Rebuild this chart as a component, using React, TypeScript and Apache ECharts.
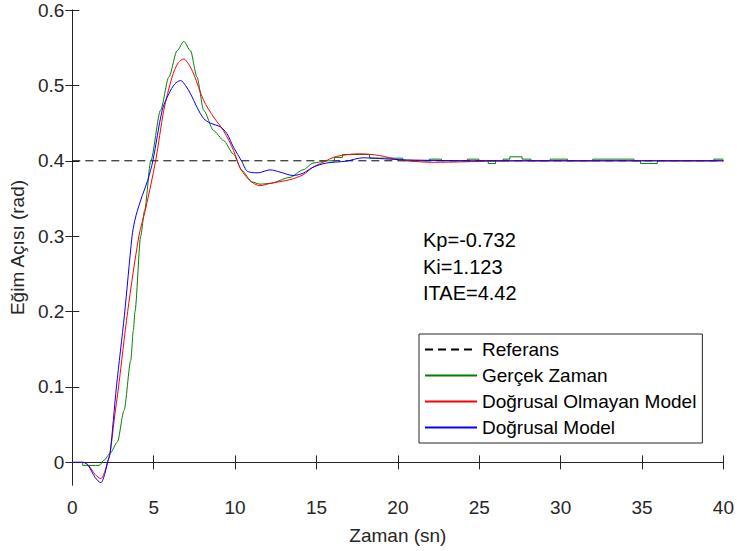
import React, { useEffect, useRef } from "react";
import * as echarts from "echarts";

const xTicks = [0, 5, 10, 15, 20, 25, 30, 35, 40];
const yTicks = [0, 0.1, 0.2, 0.3, 0.4, 0.5, 0.6];
const seriesNames = ["Referans", "Gerçek Zaman", "Doğrusal Olmayan Model", "Doğrusal Model"];
const annotations = ["Kp=-0.732", "Ki=1.123", "ITAE=4.42"];

const referans: number[][] = [[0, 0.4], [40, 0.4]];

// Gerçek Zaman: transient part (smooth) and quantized tail (steps)
const gercekZamanTransient: number[][] = [
  [0, 0], [0.64, 0], [0.64, -0.004], [1.65, -0.004], [1.96, 0.003], [2.32, 0.012], [2.77, 0.027],
  [3.18, 0.069], [3.59, 0.135], [3.75, 0.175], [3.85, 0.2], [4.2, 0.3], [4.44, 0.334], [4.82, 0.4],
  [5.42, 0.467], [5.93, 0.511], [6.44, 0.546], [6.85, 0.5585], [7.26, 0.546], [7.66, 0.511],
  [8.07, 0.467], [8.68, 0.44], [9.29, 0.427], [9.9, 0.409], [10.42, 0.387], [11.03, 0.372],
  [11.53, 0.369], [12.15, 0.37], [13.37, 0.378], [14.18, 0.388], [14.79, 0.397], [15.6, 0.4],
  [16.1, 0.4],
];
const gercekZamanTail: number[][] = [
  [16.1, 0.4], [16.1, 0.4045], [16.6, 0.4045], [16.6, 0.4083], [18.26, 0.4083], [18.26, 0.4035],
  [20.3, 0.4035], [20.3, 0.4], [21.93, 0.4], [21.93, 0.4022], [22.68, 0.4022], [22.68, 0.4],
  [24.27, 0.4], [24.27, 0.4022], [24.98, 0.4022], [24.98, 0.4], [25.55, 0.4], [25.55, 0.3965],
  [26.0, 0.3965], [26.0, 0.4], [26.47, 0.4], [26.47, 0.4022], [26.88, 0.4022], [26.88, 0.4053],
  [27.63, 0.4053], [27.63, 0.4022], [28.18, 0.4022], [28.18, 0.4], [29.36, 0.4], [29.36, 0.4022],
  [30.42, 0.4022], [30.42, 0.4], [31.97, 0.4], [31.97, 0.4022], [34.5, 0.4022], [34.5, 0.4],
  [34.9, 0.4], [34.9, 0.3965], [35.94, 0.3965], [35.94, 0.4], [39.41, 0.4], [39.41, 0.4022],
  [40, 0.4022],
];

const dogrusalOlmayan: number[][] = [
  [0, 0], [0.7, 0], [1.0, -0.004], [1.4, -0.016], [1.75, -0.0215], [2.0, -0.012], [2.16, 0],
  [2.32, 0.012], [2.57, 0.056], [2.84, 0.1], [3.4, 0.2], [4.09, 0.3], [4.5, 0.336],
  [5.12, 0.4], [5.62, 0.467], [6.13, 0.511], [6.5, 0.53], [6.85, 0.535], [7.15, 0.528], [7.46, 0.515],
  [8.07, 0.48], [8.68, 0.458], [9.29, 0.44], [9.9, 0.414], [10.3, 0.391], [10.9, 0.374],
  [11.53, 0.367], [12.15, 0.37], [13.37, 0.375], [14.18, 0.3815], [14.79, 0.3915], [15.4, 0.398],
  [16.22, 0.4057], [17.65, 0.4093], [18.87, 0.407], [20.1, 0.4013], [22.1, 0.398], [24.17, 0.3987],
  [25.4, 0.3995], [28, 0.4], [40, 0.4],
];

const dogrusal: number[][] = [
  [0, 0], [0.7, 0], [1.0, -0.005], [1.4, -0.02], [1.75, -0.027], [2.0, -0.015], [2.16, 0],
  [2.32, 0.012], [2.71, 0.1], [3.2, 0.195], [3.67, 0.3], [3.83, 0.32], [4.0, 0.334], [4.3, 0.354],
  [4.63, 0.374], [4.95, 0.4], [5.52, 0.467], [5.93, 0.489], [6.3, 0.502], [6.65, 0.5065],
  [6.95, 0.5], [7.26, 0.489], [7.66, 0.471], [8.07, 0.456], [8.48, 0.45], [9.09, 0.445],
  [9.5, 0.436], [9.9, 0.418], [10.42, 0.399], [10.7, 0.387], [11.0, 0.3845], [11.4, 0.384],
  [12.15, 0.388], [12.76, 0.385], [13.57, 0.3805], [14.18, 0.3836], [14.79, 0.3915], [15.6, 0.397],
  [16.83, 0.3995], [17.85, 0.404], [18.87, 0.403], [20.1, 0.4015], [22.1, 0.4005], [25, 0.4],
  [40, 0.4],
];

const FONT = '"Liberation Sans", Arial, sans-serif';
const INK = "#262626";

export default function App() {
  const ref = useRef<HTMLDivElement>(null);
  useEffect(() => {
    if (!ref.current) return;
    const chart = echarts.init(ref.current, undefined, { renderer: "svg" });
    const fmt = (v: number) => String(Math.round(v * 10) / 10);
    const mirrorAxis = {
      axisLine: { show: true, lineStyle: { color: INK, width: 1 } },
      axisLabel: { show: false },
      splitLine: { show: false },
    };
    chart.setOption({
      animation: false,
      backgroundColor: "#ffffff",
      textStyle: { fontFamily: FONT },
      grid: { left: 71, right: 11, top: 10, bottom: 66, containLabel: false },
      xAxis: [
        {
          type: "value", position: "bottom", min: 0, max: 40,
          name: "Zaman (sn)", nameLocation: "middle", nameGap: 41,
          nameTextStyle: { fontSize: 19, color: INK, fontFamily: FONT },
          axisLine: { show: true, lineStyle: { color: INK, width: 1 } },
          axisTick: { show: true, inside: true, length: 7, customValues: xTicks, lineStyle: { color: INK } },
          axisLabel: { show: true, customValues: xTicks, fontSize: 19, color: INK, margin: 13, fontFamily: FONT, formatter: fmt },
          splitLine: { show: false },
        },
        {
          type: "value", position: "top", min: 0, max: 40, ...mirrorAxis,
          axisTick: { show: true, inside: true, length: 7, customValues: xTicks, lineStyle: { color: INK } },
        },
      ],
      yAxis: [
        {
          type: "value", position: "left", min: -0.03, max: 0.6,
          name: "Eğim Açısı (rad)", nameLocation: "middle", nameGap: 40, nameRotate: 90,
          nameTextStyle: { fontSize: 19, color: INK, fontFamily: FONT },
          axisLine: { show: true, lineStyle: { color: INK, width: 1 } },
          axisTick: { show: true, inside: true, length: 7, customValues: yTicks, lineStyle: { color: INK } },
          axisLabel: { show: true, customValues: yTicks, fontSize: 19, color: INK, margin: 8, fontFamily: FONT, formatter: fmt },
          splitLine: { show: false },
        },
        {
          type: "value", position: "right", min: -0.03, max: 0.6, ...mirrorAxis,
          axisTick: { show: true, inside: true, length: 7, customValues: yTicks, lineStyle: { color: INK } },
        },
      ],
      legend: {
        data: seriesNames,
        orient: "vertical",
        left: 419,
        top: 334,
        itemWidth: 52,
        itemHeight: 19,
        itemGap: 7,
        padding: [6, 6, 6, 5],
        backgroundColor: "#ffffff",
        borderColor: INK,
        borderWidth: 1,
        borderRadius: 0,
        itemStyle: { opacity: 0, borderWidth: 0 },
        textStyle: { fontSize: 19, color: "#000000", fontFamily: FONT },
      },
      graphic: annotations.map((t, i) => ({
        type: "text",
        x: 423,
        y: [240, 266.5, 293][i],
        style: { text: t, font: `20px ${FONT}`, fill: "#000000", verticalAlign: "middle", textVerticalAlign: "middle" },
        z: 10,
      })),
      series: [
        { name: seriesNames[0], type: "line", data: referans, symbol: "none", lineStyle: { color: "#000000", width: 1, type: [8, 5] }, itemStyle: { color: "#000000" }, z: 2 },
        { name: seriesNames[1], type: "line", data: gercekZamanTransient, symbol: "none", smooth: 0.25, smoothMonotone: "x", lineStyle: { color: "#008000", width: 1 }, itemStyle: { color: "#008000" }, z: 3 },
        { name: seriesNames[1], type: "line", data: gercekZamanTail, symbol: "none", lineStyle: { color: "#008000", width: 1 }, itemStyle: { color: "#008000" }, z: 3 },
        { name: seriesNames[2], type: "line", data: dogrusalOlmayan, symbol: "none", smooth: 0.3, lineStyle: { color: "#ff0000", width: 1 }, itemStyle: { color: "#ff0000" }, z: 4 },
        { name: seriesNames[3], type: "line", data: dogrusal, symbol: "none", smooth: 0.3, lineStyle: { color: "#0000ff", width: 1 }, itemStyle: { color: "#0000ff" }, z: 5 },
      ],
    });
    return () => chart.dispose();
  }, []);
  return <div ref={ref} style={{ position: "fixed", left: 0, top: 0, width: 737, height: 551, background: "#fff" }} />;
}
